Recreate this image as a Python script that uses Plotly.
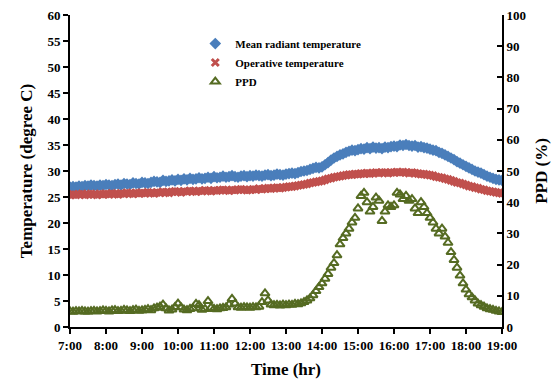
import plotly.graph_objects as go

# Time axis: 5-minute readings from 7:00 to 19:00 (hours as decimals)
hours = [7 + i * 5 / 60 for i in range(145)]

tick_hours = [7, 8, 9, 10, 11, 12, 13, 14, 15, 16, 17, 18, 19]
tick_labels = ["7:00", "8:00", "9:00", "10:00", "11:00", "12:00", "13:00",
               "14:00", "15:00", "16:00", "17:00", "18:00", "19:00"]

# Mean radiant temperature (degree C)
mean_radiant = [
    26.9, 27.0, 26.9, 27.1, 27.0, 27.2, 27.1, 27.3, 27.2, 27.1, 27.3, 27.2,
    27.4, 27.3, 27.2, 27.4, 27.5, 27.3, 27.6, 27.5, 27.4, 27.7, 27.6, 27.5,
    27.8, 27.7, 27.6, 27.8, 28.0, 27.9, 27.8, 28.2, 28.0, 28.1, 28.3, 28.1,
    28.4, 28.2, 28.5, 28.3, 28.6, 28.4, 28.5, 28.7, 28.5, 28.6, 28.8, 28.6,
    28.9, 28.7, 28.8, 29.0, 28.8, 28.9, 29.1, 28.9, 28.8, 29.0, 29.1, 28.9,
    29.1, 29.0, 29.2, 29.1, 29.0, 29.2, 29.3, 29.1, 29.2, 29.4, 29.3, 29.2,
    29.4, 29.5, 29.6, 29.5, 29.7, 29.9, 30.0, 30.1, 30.3, 30.5, 30.7, 30.6,
    30.8, 31.2, 31.6, 32.1, 32.5, 32.8, 33.1, 33.3, 33.6, 33.8, 34.0, 33.9,
    34.1, 34.3, 34.2, 34.5, 34.3, 34.6, 34.4, 34.5, 34.3, 34.6, 34.5, 34.7,
    34.8, 34.7, 35.0, 34.9, 35.1, 34.9, 34.8, 34.9, 34.6, 34.7, 34.5, 34.4,
    34.2, 34.0, 33.9, 33.6, 33.4, 33.1, 32.8, 32.5, 32.2, 31.8, 31.5, 31.2,
    30.9, 30.6, 30.3, 30.0, 29.8, 29.6, 29.3, 29.0, 28.8, 28.6, 28.4, 28.3,
    28.2,
]

# Operative temperature (degree C)
operative = [
    25.4, 25.5, 25.4, 25.5, 25.6, 25.4, 25.5, 25.6, 25.5, 25.4, 25.6, 25.5,
    25.6, 25.5, 25.7, 25.6, 25.5, 25.7, 25.6, 25.8, 25.7, 25.6, 25.8, 25.7,
    25.8, 25.7, 25.9, 25.8, 25.7, 25.9, 25.8, 26.0, 25.9, 25.8, 26.0, 26.1,
    26.0, 25.9, 26.1, 26.0, 26.2, 26.1, 26.0, 26.2, 26.1, 26.3, 26.2, 26.1,
    26.3, 26.2, 26.3, 26.4, 26.3, 26.2, 26.4, 26.3, 26.4, 26.5, 26.4, 26.3,
    26.4, 26.5, 26.4, 26.6, 26.5, 26.6, 26.7, 26.6, 26.7, 26.8, 26.7, 26.8,
    26.9, 27.0, 27.0, 27.1, 27.2, 27.3, 27.4, 27.5, 27.7, 27.8, 27.9, 28.0,
    28.1, 28.3, 28.5, 28.6, 28.8, 28.9, 29.0, 29.1, 29.2, 29.3, 29.3, 29.4,
    29.4, 29.5, 29.5, 29.6, 29.5, 29.6, 29.7, 29.6, 29.7, 29.7, 29.6, 29.7,
    29.7, 29.8, 29.7, 29.8, 29.7, 29.6, 29.7, 29.6, 29.5, 29.4, 29.4, 29.3,
    29.2, 29.1, 28.9, 28.8, 28.7, 28.5, 28.4, 28.2, 28.0, 27.8, 27.7, 27.5,
    27.3, 27.1, 27.0, 26.8, 26.7, 26.5, 26.4, 26.2, 26.1, 26.0, 25.9, 25.8,
    25.7,
]

# Predicted percentage dissatisfied (%)
ppd = [
    5.0, 4.9, 5.1, 5.0, 5.2, 5.0, 4.9, 5.1, 5.2, 5.0, 5.1, 5.3,
    5.2, 5.0, 5.3, 5.4, 5.1, 5.2, 5.5, 5.3, 5.1, 5.4, 5.6, 5.2,
    5.3, 5.5, 5.7, 5.4, 6.0, 6.2, 6.5, 7.2, 6.0, 5.3, 5.6, 6.4,
    7.5, 6.3, 5.6, 5.4, 5.8, 6.0, 7.4, 7.0, 5.5, 5.8, 8.3, 6.2,
    5.8, 5.7, 6.0, 6.1, 6.3, 7.2, 9.0, 7.5, 6.3, 6.2, 6.4, 6.3,
    6.2, 6.4, 6.3, 6.5, 8.0, 10.8, 8.5, 7.2, 7.0, 7.1, 6.9, 7.2,
    7.0, 7.2, 7.1, 7.4, 7.3, 7.6, 8.0, 8.5, 9.2, 10.2, 11.5, 12.8,
    14.0, 15.5, 17.0, 19.0, 20.5, 23.0, 26.5, 28.5, 30.0, 31.5, 33.5, 35.0,
    38.0, 42.0, 43.0, 40.0, 37.0, 38.5, 41.5, 40.5, 34.0, 37.0, 39.0, 38.5,
    39.0, 43.0, 42.5, 41.0, 42.0, 40.5, 41.0, 38.0, 36.5, 40.0, 38.5, 36.5,
    35.0, 33.5, 31.5, 30.0, 31.5, 29.0, 27.0, 24.0, 21.5, 19.0, 16.5, 14.0,
    12.0, 10.5, 9.5, 8.5, 7.5, 7.0, 6.5, 6.0, 5.7, 5.5, 5.2, 5.0,
    4.8,
]

FONT = "Liberation Serif"

fig = go.Figure()

fig.add_trace(go.Scatter(
    x=hours, y=mean_radiant, mode="markers", name="Mean radiant temperature",
    marker=dict(symbol="diamond", size=9, color="#4A7EBB",
                line=dict(width=0)),
))
fig.add_trace(go.Scatter(
    x=hours, y=operative, mode="markers", name="Operative temperature",
    marker=dict(symbol="x-thin", size=7, color="#C0504D",
                line=dict(width=3, color="#C0504D")),
))
fig.add_trace(go.Scatter(
    x=hours, y=ppd, mode="markers", name="PPD", yaxis="y2",
    marker=dict(symbol="triangle-up-open", size=8, color="#556B22",
                line=dict(width=2)),
))

axis_common = dict(
    showgrid=False, zeroline=False, showline=True, linecolor="black",
    linewidth=2, ticks="outside", tickcolor="black", tickwidth=2, ticklen=5,
    automargin=False,
    tickfont=dict(family=FONT, size=13, color="black", weight="bold"),
)

fig.update_layout(
    width=560, height=379,
    margin=dict(l=70, r=58, t=15, b=52),
    paper_bgcolor="white", plot_bgcolor="white",
    showlegend=True,
    legend=dict(
        x=0.29, y=0.955, xanchor="left", yanchor="top",
        bgcolor="rgba(0,0,0,0)", itemsizing="trace",
        tracegroupgap=0, itemwidth=30,
        font=dict(family=FONT, size=11, color="black", weight="bold"),
    ),
    xaxis=dict(
        **axis_common, range=[7, 19], tickvals=tick_hours,
        ticktext=tick_labels,
        title=dict(text="Time (hr)", standoff=12,
                   font=dict(family=FONT, size=17, color="black",
                             weight="bold")),
    ),
    yaxis=dict(
        **axis_common, range=[0, 60], tickvals=list(range(0, 61, 5)),
        title=dict(text="Temperature (degree C)", standoff=10,
                   font=dict(family=FONT, size=17, color="black",
                             weight="bold")),
    ),
    yaxis2=dict(
        **{**axis_common, "ticks": "inside"},
        range=[0, 100], tickvals=list(range(0, 101, 10)),
        overlaying="y", side="right",
        title=dict(text="PPD (%)", standoff=10,
                   font=dict(family=FONT, size=17, color="black",
                             weight="bold")),
    ),
)

fig.write_html("out.html")
